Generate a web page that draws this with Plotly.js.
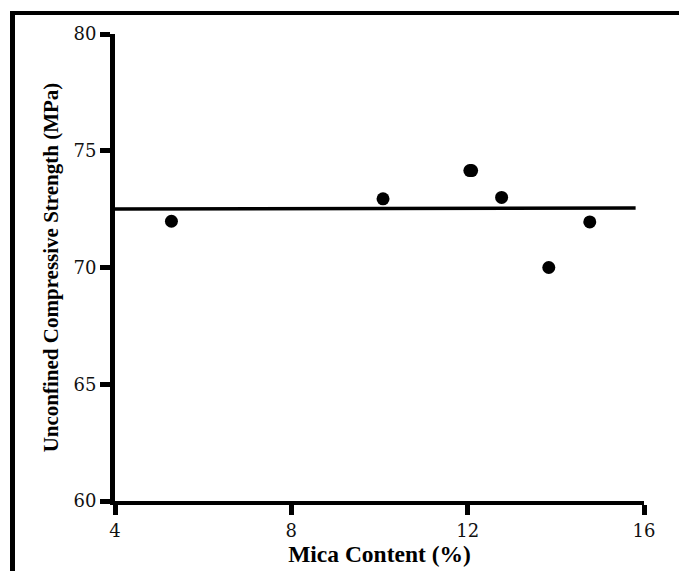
<!DOCTYPE html>
<html><head><meta charset="utf-8">
<script src="https://cdn.plot.ly/plotly-3.0.1.min.js"></script>
<style>
html,body{margin:0;padding:0;background:#fff}
#wrap{position:relative;width:679px;height:571px;overflow:hidden}
#chart{width:679px;height:571px}
#frame{position:absolute;left:10px;top:11px;right:0;bottom:0;border-top:4px solid #000;border-left:5px solid #000;pointer-events:none}
</style></head><body>
<div id="wrap"><div id="chart"></div><div id="frame"></div></div>
<script>
const micaContent = [5.28, 10.08, 12.05, 12.09, 12.77, 13.84, 14.77];
const strength    = [71.98, 72.94, 74.15, 74.15, 73.0, 70.0, 71.95];
const fitX = [4, 15.81];
const fitY = [72.51, 72.55];
const xTicks = [4, 8, 12, 16];
const yTicks = [60, 65, 70, 75, 80];
const xTitle = 'Mica Content (%)';
const yTitle = 'Unconfined Compressive Strength (MPa)';

const traces = [
  {x: fitX, y: fitY, type: 'scatter', mode: 'lines',
   line: {color: '#000', width: 3.5}, hoverinfo: 'skip', showlegend: false},
  {x: micaContent, y: strength, type: 'scatter', mode: 'markers',
   marker: {color: '#000', size: 13}, showlegend: false}
];
const tickFont = {family: '"DejaVu Serif", serif', size: 18, color: '#111'};
const titleFont = {family: '"Liberation Serif", "Times New Roman", serif', size: 23.5, color: '#000', weight: 'bold'};
const layout = {
  width: 679, height: 571,
  margin: {l: 115, r: 35, t: 34, b: 70},
  paper_bgcolor: '#fff', plot_bgcolor: '#fff',
  showlegend: false,
  xaxis: {range: [4, 16], tickvals: xTicks, ticktext: xTicks.map(String),
    showgrid: false, zeroline: false, showline: true, linecolor: '#000', linewidth: 4,
    ticks: 'outside', ticklen: 10, tickwidth: 5, tickcolor: '#000', tickfont: tickFont,
    title: {text: '<b>' + xTitle + '</b>', font: titleFont, standoff: 4}},
  yaxis: {range: [60, 80], tickvals: yTicks, ticktext: yTicks.map(String),
    showgrid: false, zeroline: false, showline: true, linecolor: '#000', linewidth: 5,
    ticks: 'outside', ticklen: 10, tickwidth: 5, tickcolor: '#000', tickfont: tickFont,
    title: {text: '<b>' + yTitle + '</b>', font: Object.assign({}, titleFont, {size: 21}), standoff: 11}}
};
Plotly.newPlot('chart', traces, layout, {displayModeBar: false, staticPlot: true});
</script>
</body></html>
